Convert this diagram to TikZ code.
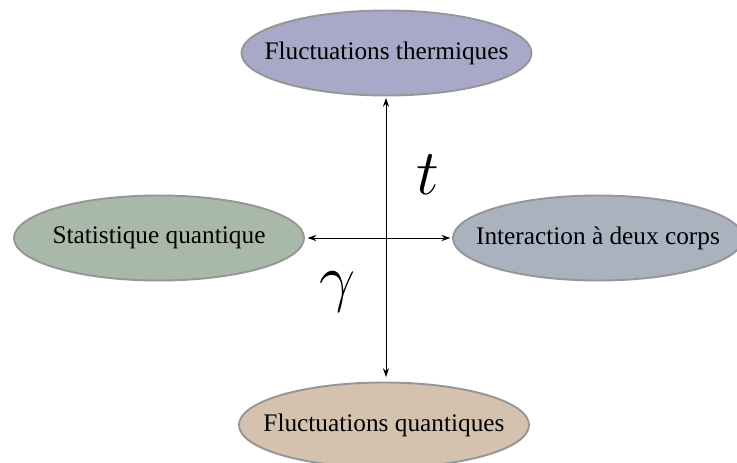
\documentclass[tikz,border=0pt]{standalone}
\usepackage{fontspec}
\setmainfont{Liberation Serif}
\usepackage{tikz}
\usetikzlibrary{arrows.meta,shapes.geometric}

\definecolor{thermcol}{RGB}{168,168,200}
\definecolor{statcol}{RGB}{169,185,169}
\definecolor{intercol}{RGB}{169,178,190}
\definecolor{quantcol}{RGB}{213,194,174}
\definecolor{rimcol}{RGB}{150,150,150}

\tikzset{
  bubble/.style={ellipse, draw=rimcol, line width=1.1pt, minimum width=5.8cm,
    minimum height=1.7cm, inner xsep=-0.4cm, inner ysep=0pt,
    font=\fontsize{14.4}{17}\selectfont},
  axis/.style={{Stealth[length=5pt,width=3.5pt]}-{Stealth[length=5pt,width=3.5pt]}, line width=0.5pt},
  biglabel/.style={font=\Huge, scale=1.47}
}

\begin{document}
\begin{tikzpicture}
    \useasboundingbox (-7.72,-4.5) rectangle (7.02,4.76);

    % Regimes
    \node[bubble, fill=thermcol] (therm) at (0.01,3.7) {Fluctuations thermiques};
    \node[bubble, fill=statcol] (stat) at (-4.54,0) {Statistique quantique};
    \node[bubble, fill=intercol] (inter) at (4.24,0) {Interaction à deux corps};
    \node[bubble, fill=quantcol] (quant) at (-0.04,-3.74) {Fluctuations quantiques};

    % Axes
    \coordinate (up) at (0,2.8);
    \coordinate (down) at (0,-2.78);
    \draw[axis] (up) -- (down);
    \draw[axis, shorten <=1.5pt, shorten >=1pt] (stat) -- (inter);

    % Labels
    \node[biglabel] (tlab) at (0.84,1.26) {$t$};
    \node[biglabel] (glab) at (-0.96,-1.08) {$\gamma$};
\end{tikzpicture}
\end{document}
